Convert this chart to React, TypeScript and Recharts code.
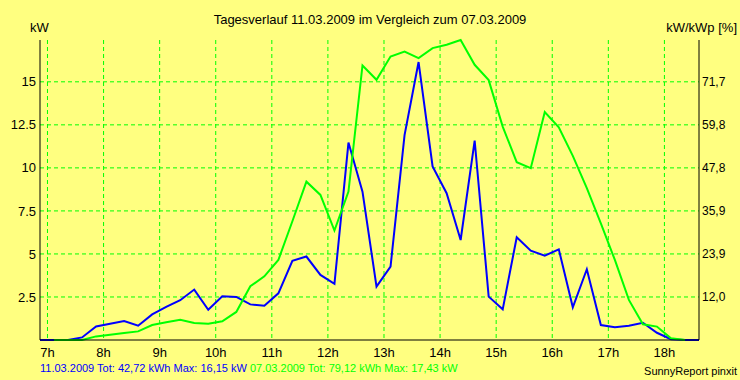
import { CartesianGrid, Line, LineChart, XAxis, YAxis } from "recharts";

const BG = "#FFFF80";
const BLUE = "#0000FF"; // 11.03.2009
const GREEN = "#00FF00"; // 07.03.2009
const FONT = "'Liberation Sans', Arial, sans-serif";

// quarter-hour readings, 06:52 .. 18:37
const TIMES = [
  "06:52", "07:07", "07:22", "07:37", "07:52", "08:07", "08:22", "08:37",
  "08:52", "09:07", "09:22", "09:37", "09:52", "10:07", "10:22", "10:37",
  "10:52", "11:07", "11:22", "11:37", "11:52", "12:07", "12:22", "12:37",
  "12:52", "13:07", "13:22", "13:37", "13:52", "14:07", "14:22", "14:37",
  "14:52", "15:07", "15:22", "15:37", "15:52", "16:07", "16:22", "16:37",
  "16:52", "17:07", "17:22", "17:37", "17:52", "18:07", "18:22", "18:37",
];

const BLUE_KW = [
  0, 0, 0, 0.15, 0.79, 0.95, 1.1, 0.83,
  1.49, 1.92, 2.31, 2.93, 1.76, 2.54, 2.5, 2.07,
  1.99, 2.71, 4.6, 4.85, 3.78, 3.26, 11.47, 8.62,
  3.1, 4.26, 11.9, 16.15, 10.08, 8.53, 5.81, 11.59,
  2.52, 1.78, 5.97, 5.19, 4.9, 5.27, 1.9, 4.11,
  0.87, 0.74, 0.83, 1.0, 0.42, 0.05, 0, 0,
];

const GREEN_KW: (number | null)[] = [
  null, 0, 0, 0, 0.21, 0.31, 0.41, 0.5,
  0.87, 1.03, 1.18, 0.99, 0.95, 1.09, 1.63, 3.12,
  3.7, 4.65, 6.9, 9.2, 8.43, 6.36, 8.62, 15.95,
  15.12, 16.47, 16.76, 16.38, 16.96, 17.15, 17.43, 15.99,
  15.1, 12.4, 10.33, 9.98, 13.24, 12.36, 10.7, 8.82,
  6.78, 4.65, 2.33, 0.91, 0.78, 0.1, 0, null,
];

const HOUR_TICKS = [7, 8, 9, 10, 11, 12, 13, 14, 15, 16, 17, 18];
const KW_TICKS = [2.5, 5, 7.5, 10, 12.5, 15];
const PCT_LABELS = ["12,0", "23,9", "35,9", "47,8", "59,8", "71,7"];
const KW_MAX = 17.43;

function toHours(t: string): number {
  const [h, m] = t.split(":").map(Number);
  return h + m / 60;
}

const data = TIMES.map((t, i) => ({ t: toHours(t), blue: BLUE_KW[i], green: GREEN_KW[i] }));

const tickStyle = { fill: "#000", fontSize: 12, fontFamily: FONT };

export default function App() {
  return (
    <div
      style={{
        position: "absolute",
        left: 0,
        top: 0,
        width: 740,
        height: 380,
        background: BG,
        fontFamily: FONT,
        color: "#000",
        overflow: "hidden",
      }}
    >
      <div style={{ position: "absolute", top: 12, left: 0, width: 740, textAlign: "center", fontSize: 13, lineHeight: "15px" }}>
        Tagesverlauf 11.03.2009 im Vergleich zum 07.03.2009
      </div>
      <div style={{ position: "absolute", top: 20, left: 30, fontSize: 13, lineHeight: "15px" }}>kW</div>
      <div style={{ position: "absolute", top: 20, right: 3, fontSize: 13, lineHeight: "15px" }}>kW/kWp [%]</div>

      <LineChart width={740} height={380} data={data} margin={{ top: 40, right: 0, bottom: 0, left: 0 }}>
        <CartesianGrid
          xAxisId="x"
          yAxisId="left"
          verticalValues={HOUR_TICKS}
          horizontalValues={KW_TICKS}
          stroke={GREEN}
          strokeDasharray="4 3"
          strokeWidth={1}
        />
        <XAxis
          xAxisId="x"
          dataKey="t"
          type="number"
          domain={["dataMin", "dataMax"]}
          ticks={HOUR_TICKS}
          tickFormatter={(h: number) => `${h}h`}
          height={40}
          tickLine={false}
          axisLine={{ stroke: "#000", strokeWidth: 1 }}
          tick={{ ...tickStyle, fontSize: 13 }}
          interval={0}
        />
        <XAxis
          xAxisId="top"
          dataKey="t"
          type="number"
          orientation="top"
          domain={["dataMin", "dataMax"]}
          height={0}
          tick={false}
          tickLine={false}
          axisLine={{ stroke: "#000", strokeWidth: 1 }}
        />
        <YAxis
          yAxisId="left"
          domain={[0, KW_MAX]}
          ticks={KW_TICKS}
          width={40}
          tickLine={false}
          tickSize={4}
          tickMargin={0}
          axisLine={{ stroke: "#000", strokeWidth: 1 }}
          tick={{ ...tickStyle, fontSize: 13 }}
          interval={0}
        />
        {/* right axis: same kW scale, labelled as % of kWp */}
        <YAxis
          yAxisId="right"
          orientation="right"
          domain={[0, KW_MAX]}
          ticks={KW_TICKS}
          tickFormatter={(v: number, i: number) => PCT_LABELS[i] ?? ""}
          width={41}
          tickLine={false}
          tickSize={3}
          tickMargin={0}
          axisLine={{ stroke: "#000", strokeWidth: 1 }}
          tick={tickStyle}
          interval={0}
        />
        <Line
          xAxisId="x"
          yAxisId="left"
          type="linear"
          dataKey="blue"
          stroke={BLUE}
          strokeWidth={2}
          dot={false}
          activeDot={false}
          isAnimationActive={false}
        />
        <Line
          xAxisId="x"
          yAxisId="right"
          type="linear"
          dataKey="green"
          stroke={GREEN}
          strokeWidth={2}
          dot={false}
          activeDot={false}
          isAnimationActive={false}
        />
      </LineChart>

      <div style={{ position: "absolute", top: 362, left: 40, fontSize: 11, lineHeight: "13px", whiteSpace: "nowrap" }}>
        <span style={{ color: BLUE }}>11.03.2009 Tot: 42,72 kWh Max: 16,15 kW </span>
        <span style={{ color: GREEN }}>07.03.2009 Tot: 79,12 kWh Max: 17,43 kW</span>
      </div>
      <div style={{ position: "absolute", top: 365, right: 3, fontSize: 11, lineHeight: "13px" }}>SunnyReport pinxit</div>
    </div>
  );
}
